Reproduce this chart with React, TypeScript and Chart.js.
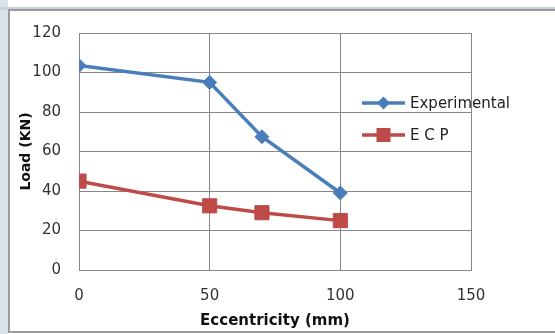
import React, { useEffect, useRef } from "react";
import { Chart, registerables } from "chart.js";

Chart.register(...registerables);

const eccentricity = [0, 50, 70, 100];
const experimental = [103.5, 95, 67.5, 39];
const ecp = [45, 32.5, 29, 25];
const seriesNames = ["Experimental", "E C P"];
const xTicks = [0, 50, 100, 150];

const BLUE = "#4A7EBB";
const RED = "#BE4B48";
const GRID = "#878787";
const FONT = "'DejaVu Sans', Verdana, sans-serif";

const framePlugin = {
  id: "frame",
  beforeDraw(chart: any) {
    const ctx = chart.ctx;
    const w = chart.width;
    const h = chart.height;
    ctx.save();
    ctx.fillStyle = "#ffffff";
    ctx.fillRect(0, 0, w, h);
    ctx.fillStyle = "#dde3ed";
    ctx.fillRect(0, 0, 8, h);
    ctx.fillStyle = "#c8d1e0";
    ctx.fillRect(0, 7, w, 3);
    ctx.fillStyle = "#9a9a9a";
    ctx.fillRect(8, 9, 2, 324);
    ctx.fillRect(8, 9, w - 8, 2);
    ctx.fillRect(8, 331, w - 8, 2);
    ctx.restore();
  },
};

const legendPlugin = {
  id: "customLegend",
  afterDraw(chart: any) {
    const ctx = chart.ctx;
    const items = chart.data.datasets;
    const x0 = 362;
    const x1 = 405;
    const ys = [103, 135];
    items.forEach((ds: any, i: number) => {
      const y = ys[i];
      ctx.save();
      ctx.strokeStyle = ds.borderColor;
      ctx.lineWidth = 3.5;
      ctx.beginPath();
      ctx.moveTo(x0, y);
      ctx.lineTo(x1, y);
      ctx.stroke();
      ctx.fillStyle = ds.pointBackgroundColor;
      ctx.beginPath();
      const cx = (x0 + x1) / 2;
      if (ds.pointStyle === "rectRot") {
        const r = 6.5;
        ctx.moveTo(cx, y - r);
        ctx.lineTo(cx + r, y);
        ctx.lineTo(cx, y + r);
        ctx.lineTo(cx - r, y);
        ctx.closePath();
      } else {
        const s = 7;
        ctx.rect(cx - s, y - s, 2 * s, 2 * s);
      }
      ctx.fill();
      ctx.fillStyle = "#222";
      ctx.font = `15px ${FONT}`;
      ctx.textBaseline = "middle";
      ctx.textAlign = "left";
      ctx.fillText(ds.label, 410, y + 1);
      ctx.restore();
    });
  },
};

const plotBorderPlugin = {
  id: "plotBorder",
  beforeDatasetsDraw(chart: any) {
    const { ctx, chartArea } = chart;
    ctx.save();
    ctx.strokeStyle = GRID;
    ctx.lineWidth = 1;
    ctx.beginPath();
    ctx.moveTo(Math.round(chartArea.right) + 0.5, chartArea.top);
    ctx.lineTo(Math.round(chartArea.right) + 0.5, chartArea.bottom);
    ctx.moveTo(chartArea.left, Math.round(chartArea.top) + 0.5);
    ctx.lineTo(chartArea.right, Math.round(chartArea.top) + 0.5);
    ctx.stroke();
    ctx.restore();
  },
};

export default function App() {
  const ref = useRef<HTMLCanvasElement>(null);

  useEffect(() => {
    if (!ref.current) return;
    const chart = new Chart(ref.current, {
      type: "line",
      data: {
        datasets: [
          {
            label: seriesNames[0],
            data: eccentricity.map((x, i) => ({ x, y: experimental[i] })),
            borderColor: BLUE,
            backgroundColor: BLUE,
            pointBackgroundColor: BLUE,
            pointBorderColor: BLUE,
            pointStyle: "rectRot",
            pointRadius: 7,
            pointBorderWidth: 1,
            borderWidth: 3.5,
            tension: 0,
          },
          {
            label: seriesNames[1],
            data: eccentricity.map((x, i) => ({ x, y: ecp[i] })),
            borderColor: RED,
            backgroundColor: RED,
            pointBackgroundColor: RED,
            pointBorderColor: RED,
            pointStyle: "rect",
            pointRadius: 10,
            pointBorderWidth: 1,
            borderWidth: 3.5,
            tension: 0,
          },
        ],
      },
      options: {
        animation: false,
        responsive: false,
        maintainAspectRatio: false,
        layout: { padding: { left: 0, top: 33, right: 84, bottom: 0 } },
        plugins: {
          legend: { display: false },
          tooltip: { enabled: false },
        },
        scales: {
          x: {
            type: "linear",
            min: 0,
            max: 150,
            afterBuildTicks: (scale: any) => {
              scale.ticks = xTicks.map((v) => ({ value: v }));
            },
            afterFit: (scale: any) => {
              scale.height = 64;
            },
            grid: {
              color: GRID,
              lineWidth: 1,
              drawTicks: false,
            },
            border: { color: GRID, width: 1 },
            ticks: {
              padding: 17,
              color: "#333",
              font: { family: FONT, size: 15 },
              maxRotation: 0,
            },
            title: {
              display: true,
              text: "Eccentricity (mm)",
              color: "#111",
              font: { family: FONT, size: 15, weight: "bold" },
              padding: { top: 0, bottom: 4 },
            },
          },
          y: {
            min: 0,
            max: 120,
            afterFit: (scale: any) => {
              scale.width = 79;
            },
            grid: {
              color: GRID,
              lineWidth: 1,
              drawTicks: false,
            },
            border: { color: GRID, width: 1 },
            ticks: {
              stepSize: 20,
              padding: 18,
              color: "#333",
              font: { family: FONT, size: 15 },
            },
            title: {
              display: true,
              text: "Load (KN)",
              color: "#111",
              font: { family: FONT, size: 14, weight: "bold" },
              padding: { top: 18, bottom: 0 },
            },
          },
        },
      },
      plugins: [framePlugin, plotBorderPlugin, legendPlugin],
    } as any);
    return () => chart.destroy();
  }, []);

  return (
    <canvas
      ref={ref}
      width={555}
      height={334}
      style={{ position: "fixed", left: 0, top: 0, width: 555, height: 334, display: "block" }}
    />
  );
}
